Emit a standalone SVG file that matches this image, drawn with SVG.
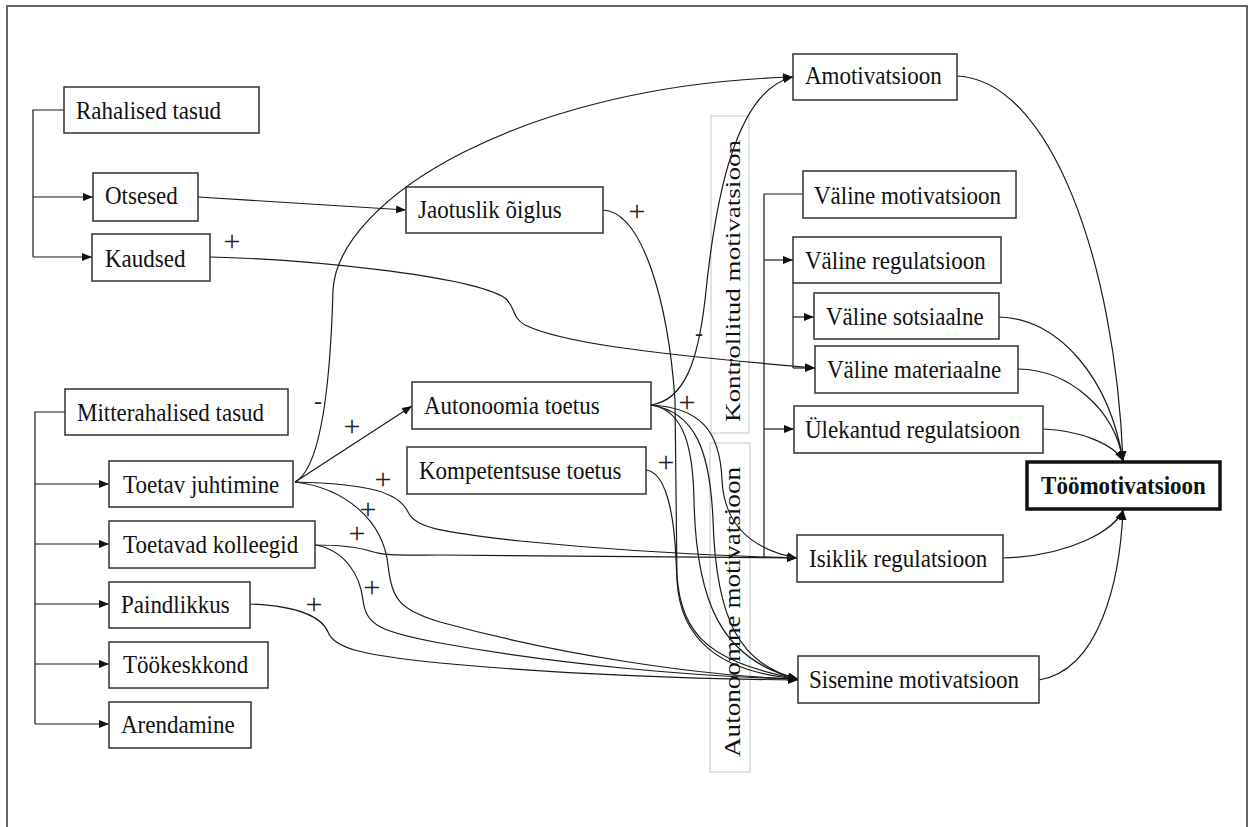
<svg xmlns="http://www.w3.org/2000/svg" width="1252" height="827" viewBox="0 0 1252 827">
<defs>
<marker id="ah" viewBox="0 0 10 8" refX="10" refY="4" markerWidth="10" markerHeight="8" markerUnits="userSpaceOnUse" orient="auto">
<path d="M0,0 L10,4 L0,8 z" fill="#111"/>
</marker>
</defs>
<style>
.box{fill:#fff;stroke:#333;stroke-width:1.5}
.t{font-family:"Liberation Serif","Times New Roman",serif;font-size:23px;fill:#111}
.b{font-weight:bold}
.c{fill:none;stroke:#1a1a1a;stroke-width:1.2}
.a{marker-end:url(#ah)}
.grp{fill:none;stroke:#cfcfcf;stroke-width:1.2}
.s{font-family:"Liberation Serif","Times New Roman",serif;font-size:30px;fill:#222;text-anchor:middle}
.m{font-family:"Liberation Serif","Times New Roman",serif;font-size:24px;fill:#222;text-anchor:middle}
</style>
<rect width="1252" height="827" fill="#fff"/>
<path d="M7,830 V6 H1247 V830" fill="none" stroke="#666" stroke-width="2"/>

<g id="groups">
<rect class="grp" x="711" y="116" width="38" height="317"/>
<text class="t" transform="translate(740,422) rotate(-90)" textLength="282" lengthAdjust="spacingAndGlyphs" style="font-size:20px">Kontrollitud motivatsioon</text>
<rect class="grp" x="710" y="443" width="40" height="329"/>
<text class="t" transform="translate(740,757) rotate(-90)" textLength="290" lengthAdjust="spacingAndGlyphs" style="font-size:24px">Autonoomne motivatsioon</text>
</g>

<g id="connectors">
<path class="c" d="M64,110 H33 V257"/>
<path class="c a" d="M33,197 H93"/>
<path class="c a" d="M33,257 H92"/>
<path class="c" d="M65,412 H35 V724"/>
<path class="c a" d="M35,484 H109"/>
<path class="c a" d="M35,544 H109"/>
<path class="c a" d="M35,604 H109"/>
<path class="c a" d="M35,664 H109"/>
<path class="c a" d="M35,724 H109"/>
<path class="c" d="M803,194 H764 V557"/>
<path class="c a" d="M764,260 H793"/>
<path class="c a" d="M764,429 H794"/>
<path class="c" d="M793,283 V368"/>
<path class="c a" d="M793,317 H814"/>
<path class="c a" d="M793,368 H815"/>

<path class="c a" d="M198,197 L406,210"/>
<path class="c a" d="M210,257 C300,259 470,275 505,298 C515,306 512,318 525,325 C560,342 640,353 815,368"/>
<path class="c a" d="M295,482 C318,470 330,400 333,290 C338,200 520,85 793,77"/>
<path class="c a" d="M295,482 L412,406"/>
<path class="c a" d="M295,482 C370,484 398,492 408,512 C416,528 440,532 520,541 C620,551 720,556 797,558"/>
<path class="c a" d="M295,482 C345,488 383,520 388,565 C392,600 400,610 440,622 C560,655 700,676 798,679"/>
<path class="c a" d="M315,545 C345,545 360,548 370,551 C385,556 400,555 440,555 L797,558"/>
<path class="c a" d="M315,545 C345,550 360,575 363,600 C366,625 380,632 440,643 C560,665 700,677 798,679"/>
<path class="c a" d="M250,604 C300,606 322,618 328,632 C334,648 360,655 440,663 C580,676 700,679 798,680"/>
<path class="c a" d="M603,210 C642,212 668,300 675,400 L677,580 C680,640 720,672 798,679"/>
<path class="c a" d="M651,405 C685,400 698,360 705,300 C715,200 735,90 793,77"/>
<path class="c a" d="M651,405 C700,408 720,430 722,480 C724,520 745,548 797,558"/>
<path class="c a" d="M651,405 C685,410 693,450 694,500 C696,600 720,660 798,679"/>
<path class="c a" d="M651,405 C695,412 710,450 713,520 C716,620 740,665 798,679"/>
<path class="c a" d="M646,470 C665,472 674,510 676,560 C678,630 700,660 798,679"/>

<path class="c a" d="M957,76 C1050,80 1115,260 1123,461"/>
<path class="c a" d="M999,317 C1060,318 1110,380 1123,461"/>
<path class="c a" d="M1018,369 C1070,370 1115,410 1123,461"/>
<path class="c a" d="M1043,429 C1080,430 1115,445 1123,461"/>
<path class="c a" d="M1003,558 C1070,556 1115,530 1123,510"/>
<path class="c a" d="M1039,680 C1100,670 1120,580 1123,510"/>
</g>

<g id="signs">
<text class="s" x="232" y="251">+</text>
<text class="s" x="637" y="221">+</text>
<text class="m" x="318" y="409">-</text>
<text class="s" x="352" y="436">+</text>
<text class="s" x="383" y="489">+</text>
<text class="s" x="368" y="519">+</text>
<text class="s" x="357" y="543">+</text>
<text class="s" x="372" y="597">+</text>
<text class="s" x="314" y="614">+</text>
<text class="s" x="687" y="412">+</text>
<text class="m" x="699" y="341">-</text>
<text class="s" x="666" y="472">+</text>
</g>

<g id="n-rahalised"><rect class="box" x="64" y="87" width="195" height="46"/><text class="t" transform="translate(76,119) scale(1,1.13)">Rahalised tasud</text></g>
<g id="n-otsesed"><rect class="box" x="93" y="173" width="105" height="48"/><text class="t" transform="translate(105,204) scale(1,1.13)">Otsesed</text></g>
<g id="n-kaudsed"><rect class="box" x="92" y="234" width="118" height="47"/><text class="t" transform="translate(105,267) scale(1,1.13)">Kaudsed</text></g>
<g id="n-jaotuslik"><rect class="box" x="406" y="187" width="197" height="46"/><text class="t" transform="translate(418,218) scale(1,1.13)">Jaotuslik õiglus</text></g>
<g id="n-amotivatsioon"><rect class="box" x="793" y="54" width="164" height="46"/><text class="t" transform="translate(805,84) scale(1,1.13)">Amotivatsioon</text></g>
<g id="n-valine-motivatsioon"><rect class="box" x="803" y="171" width="213" height="47"/><text class="t" transform="translate(814,204) scale(1,1.13)">Väline motivatsioon</text></g>
<g id="n-valine-regulatsioon"><rect class="box" x="793" y="237" width="208" height="46"/><text class="t" transform="translate(805,269) scale(1,1.13)">Väline regulatsioon</text></g>
<g id="n-valine-sotsiaalne"><rect class="box" x="814" y="293" width="185" height="46"/><text class="t" transform="translate(826,325) scale(1,1.13)">Väline sotsiaalne</text></g>
<g id="n-valine-materiaalne"><rect class="box" x="815" y="346" width="203" height="47"/><text class="t" transform="translate(827,378) scale(1,1.13)">Väline materiaalne</text></g>
<g id="n-ulekantud"><rect class="box" x="794" y="406" width="249" height="47"/><text class="t" transform="translate(805,438) scale(1,1.13)">Ülekantud regulatsioon</text></g>
<g id="n-mitterahalised"><rect class="box" x="65" y="389" width="223" height="46"/><text class="t" transform="translate(77,421) scale(1,1.13)">Mitterahalised tasud</text></g>
<g id="n-autonoomia"><rect class="box" x="412" y="382" width="239" height="47"/><text class="t" transform="translate(424,414) scale(1,1.13)">Autonoomia toetus</text></g>
<g id="n-kompetentsuse"><rect class="box" x="407" y="447" width="239" height="47"/><text class="t" transform="translate(419,479) scale(1,1.13)">Kompetentsuse toetus</text></g>
<g id="n-toetav-juhtimine"><rect class="box" x="109" y="461" width="184" height="46"/><text class="t" transform="translate(123,493) scale(1,1.13)">Toetav juhtimine</text></g>
<g id="n-toetavad-kolleegid"><rect class="box" x="109" y="521" width="206" height="47"/><text class="t" transform="translate(123,553) scale(1,1.13)">Toetavad kolleegid</text></g>
<g id="n-paindlikkus"><rect class="box" x="109" y="582" width="141" height="46"/><text class="t" transform="translate(121,613) scale(1,1.13)">Paindlikkus</text></g>
<g id="n-tookeskkond"><rect class="box" x="109" y="642" width="159" height="46"/><text class="t" transform="translate(123,673) scale(1,1.13)">Töökeskkond</text></g>
<g id="n-arendamine"><rect class="box" x="109" y="702" width="142" height="46"/><text class="t" transform="translate(121,733) scale(1,1.13)">Arendamine</text></g>
<g id="n-isiklik"><rect class="box" x="797" y="535" width="206" height="47"/><text class="t" transform="translate(809,567) scale(1,1.13)">Isiklik regulatsioon</text></g>
<g id="n-sisemine"><rect class="box" x="798" y="656" width="241" height="47"/><text class="t" transform="translate(809,688) scale(1,1.13)">Sisemine motivatsioon</text></g>
<g id="n-toomotivatsioon"><rect class="box" x="1027" y="462" width="193" height="47" style="stroke:#111;stroke-width:3.5"/><text class="t b" transform="translate(1123.5,494) scale(1,1.13)" text-anchor="middle">Töömotivatsioon</text></g>
</svg>
